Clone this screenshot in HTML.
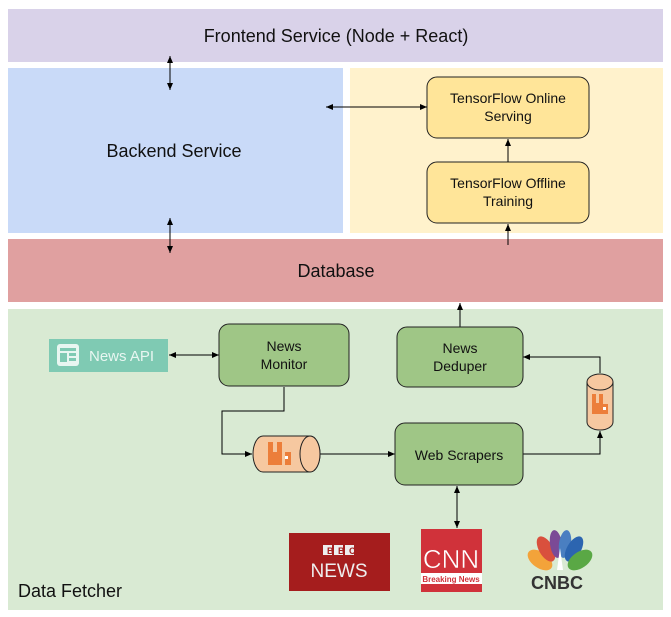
<!DOCTYPE html>
<html><head><meta charset="utf-8"><style>
html,body{margin:0;padding:0;background:#fff;}
svg{display:block;font-family:"Liberation Sans",sans-serif;}
</style></head><body>
<svg width="671" height="617" viewBox="0 0 671 617" xmlns="http://www.w3.org/2000/svg">
<defs>
<marker id="a" markerWidth="8" markerHeight="8" refX="7" refY="4" orient="auto" markerUnits="userSpaceOnUse">
<path d="M0,1 L7,4 L0,7 z" fill="#000"/></marker>
<marker id="s" markerWidth="8" markerHeight="8" refX="1" refY="4" orient="auto" markerUnits="userSpaceOnUse">
<path d="M8,1 L1,4 L8,7 z" fill="#000"/></marker>
</defs>
<rect width="671" height="617" fill="#fff"/>
<rect x="8" y="9" width="655" height="53" fill="#d9d2e9"/>
<text x="336" y="42" font-size="18" text-anchor="middle" fill="#111">Frontend Service (Node + React)</text>
<rect x="8" y="68" width="335" height="165" fill="#c9daf8"/>
<text x="174" y="157" font-size="18" text-anchor="middle" fill="#111">Backend Service</text>
<rect x="350" y="68" width="313" height="165" fill="#fff2cc"/>
<rect x="8" y="239" width="655" height="63" fill="#e0a0a0"/>
<text x="336" y="277" font-size="18" text-anchor="middle" fill="#111">Database</text>
<rect x="8" y="309" width="655" height="301" fill="#d9ead3"/>
<text x="18" y="597" font-size="18" fill="#111">Data Fetcher</text>

<rect x="427" y="77" width="162" height="61" rx="10" fill="#ffe599" stroke="#222" stroke-width="1"/>
<text x="508" y="103" font-size="14" text-anchor="middle" fill="#111">TensorFlow Online</text>
<text x="508" y="121" font-size="14" text-anchor="middle" fill="#111">Serving</text>
<rect x="427" y="162" width="162" height="61" rx="10" fill="#ffe599" stroke="#222" stroke-width="1"/>
<text x="508" y="188" font-size="14" text-anchor="middle" fill="#111">TensorFlow Offline</text>
<text x="508" y="206" font-size="14" text-anchor="middle" fill="#111">Training</text>

<g stroke="#000" stroke-width="1" fill="none">
<line x1="170" y1="56" x2="170" y2="90" marker-start="url(#s)" marker-end="url(#a)"/>
<line x1="170" y1="218" x2="170" y2="253" marker-start="url(#s)" marker-end="url(#a)"/>
<line x1="326" y1="107" x2="427" y2="107" marker-start="url(#s)" marker-end="url(#a)"/>
<line x1="508" y1="162" x2="508" y2="139" marker-end="url(#a)"/>
<line x1="508" y1="245" x2="508" y2="224" marker-end="url(#a)"/>
<line x1="460" y1="327" x2="460" y2="303" marker-end="url(#a)"/>
<line x1="169" y1="355" x2="219" y2="355" marker-start="url(#s)" marker-end="url(#a)"/>
<polyline points="284,387 284,411 222,411 222,454 252,454" marker-end="url(#a)"/>
<line x1="320" y1="454" x2="395" y2="454" marker-end="url(#a)"/>
<polyline points="523,454 600,454 600,431" marker-end="url(#a)"/>
<polyline points="600,373 600,357 523,357" marker-end="url(#a)"/>
<line x1="457" y1="486" x2="457" y2="528" marker-start="url(#s)" marker-end="url(#a)"/>
</g>

<rect x="49" y="339" width="119" height="33" fill="#7fcab3"/>
<rect x="57" y="344" width="22" height="22" rx="3" fill="#e8f6f1"/>
<rect x="60" y="348" width="16" height="3" fill="#7fcab3"/>
<rect x="60" y="353" width="7" height="9" fill="#7fcab3"/>
<rect x="69" y="353" width="7" height="3" fill="#7fcab3"/>
<rect x="69" y="358" width="7" height="3" fill="#7fcab3"/>
<text x="89" y="361" font-size="15" fill="#e8f6f1">News API</text>

<rect x="219" y="324" width="130" height="62" rx="10" fill="#9fc686" stroke="#222"/>
<text x="284" y="351" font-size="14" text-anchor="middle" fill="#111">News</text>
<text x="284" y="369" font-size="14" text-anchor="middle" fill="#111">Monitor</text>
<rect x="397" y="327" width="126" height="60" rx="10" fill="#9fc686" stroke="#222"/>
<text x="460" y="353" font-size="14" text-anchor="middle" fill="#111">News</text>
<text x="460" y="371" font-size="14" text-anchor="middle" fill="#111">Deduper</text>
<rect x="395" y="423" width="128" height="62" rx="10" fill="#9fc686" stroke="#222"/>
<text x="459" y="460" font-size="14" text-anchor="middle" fill="#111">Web Scrapers</text>

<!-- horizontal cylinder -->
<path d="M263,436 L310,436 A10,18 0 0 1 310,472 L263,472 A10,18 0 0 1 263,436 z" fill="#f6c8a0" stroke="#222"/>
<ellipse cx="310" cy="454" rx="10" ry="18" fill="#f6c8a0" stroke="#222"/>
<path d="M268,442 h5 v10 h4 v-10 h5 v23 h-14 z" fill="#ec7e3a"/>
<rect x="285" y="452" width="6" height="13" fill="#ec7e3a"/><rect x="285" y="456" width="3" height="3" fill="#fff"/>
<!-- vertical cylinder -->
<path d="M587,382 L587,422 A13,8 0 0 0 613,422 L613,382 z" fill="#f6c8a0" stroke="#222"/>
<ellipse cx="600" cy="382" rx="13" ry="8" fill="#f6c8a0" stroke="#222"/>
<path d="M592,394 h4 v9 h3 v-9 h4 v20 h-11 z" fill="#ec7e3a"/>
<rect x="603" y="404" width="5" height="10" fill="#ec7e3a"/><rect x="603" y="407" width="3" height="3" fill="#fff"/>

<!-- logos -->
<rect x="289" y="533" width="101" height="58" fill="#a51d1d"/>
<rect x="323" y="545" width="9" height="10" fill="#eee"/><rect x="334" y="545" width="9" height="10" fill="#eee"/><rect x="345" y="545" width="9" height="10" fill="#eee"/>
<text x="327" y="554" font-size="9" font-weight="bold" fill="#a51d1d">B</text><text x="338" y="554" font-size="9" font-weight="bold" fill="#a51d1d">B</text><text x="349" y="554" font-size="9" font-weight="bold" fill="#a51d1d">C</text>
<text x="339" y="577" font-size="19" text-anchor="middle" fill="#eee">NEWS</text>
<rect x="421" y="529" width="61" height="63" fill="#d0323a"/>
<text x="451" y="568" font-size="26" text-anchor="middle" fill="#fff" stroke="#d0323a" stroke-width="0.5">CNN</text>
<rect x="421" y="573" width="61" height="11" fill="#fff"/>
<text x="451" y="582" font-size="8" font-weight="bold" text-anchor="middle" fill="#d0323a">Breaking News</text>
<g transform="translate(560,562)">
<ellipse cx="-20" cy="-2" rx="8" ry="14" transform="rotate(-55 -20 -2)" fill="#f3a33a"/>
<ellipse cx="-14" cy="-13" rx="7" ry="14" transform="rotate(-30 -14 -13)" fill="#d9503d"/>
<ellipse cx="-4" cy="-18" rx="6" ry="14" transform="rotate(-8 -4 -18)" fill="#7b4a96"/>
<ellipse cx="5" cy="-18" rx="6" ry="14" transform="rotate(8 5 -18)" fill="#4a7fc1"/>
<ellipse cx="14" cy="-13" rx="7" ry="14" transform="rotate(30 14 -13)" fill="#2c65b0"/>
<ellipse cx="20" cy="-2" rx="8" ry="14" transform="rotate(55 20 -2)" fill="#5aa845"/>
<path d="M0,-14 L-3,8 L3,8 z" fill="#fff"/>
</g>
<text x="557" y="589" font-size="18" font-weight="bold" text-anchor="middle" fill="#333">CNBC</text>
</svg>
</body></html>
